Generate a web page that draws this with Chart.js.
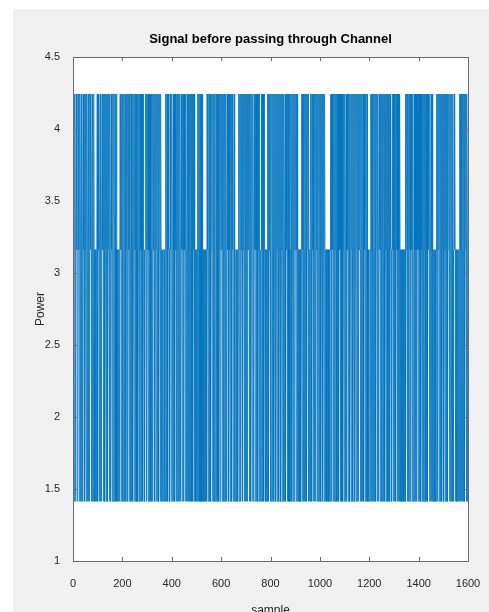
<!DOCTYPE html>
<html>
<head>
<meta charset="utf-8">
<title>Signal before passing through Channel</title>
<script src="https://cdn.jsdelivr.net/npm/chart.js@4.4.1/dist/chart.umd.min.js"></script>
<style>
  html, body { margin: 0; padding: 0; background: #fff; }
</style>
</head>
<body>
<canvas id="sig" width="489" height="612"></canvas>
<script>
// ── Data ────────────────────────────────────────────────────────────────────
// three power levels seen on the plot (bottom, middle, top)
const LEVELS = [1.414, 3.162, 4.243];

// symbol index per sample (0 = bottom, 1 = middle, 2 = top), 100 samples/row
const SYMBOL_ROWS = [
  '1121012211 0121120012 2111012210 1121021101 2211012012 1102121101 2012110221 1210112012 2101211101 1011011211',
  '0211210112 1021101221 1120112101 2110211012 0121112021 1012211021 1201121102 2110121011 0111011101 2112012110',
  '1201121012 2110012112 0211210121 1012201112 2101121021 1120121101 2201112012 1021120112 2101121011 0111210121',
  '1210211201 1221011021 1012112101 2011210221 1102112012 1210121101 0111010110 1101121012 2110211201 1021120112',
  '2110121012 1102112101 2012110211 0121101221 1012112012 2110121101 1201221011 0211012112 1021101211 2101011011',
  '0110211201 1210112021 1021010110 1101101101 1021120112 2101121012 1120112101 2012101122 1011210212 0112101221',
  '1120121101 2011210221 1012112012 0211101121 1210211201 1120110101 1011011011 2101121012 1121012011 2110121021',
  '1021120112 2110121012 0121101121 1012211021 1201121102 2110121011 1021120112 1201211011 0110111021 1201121102',
  '2101121012 1120112101 2012110221 1210121101 2011210121 1022110121 1012112012 2110121011 0121120112 1021101211',
  '2110211201 1101101101 1101121012 1210112021 1021120112 2101211011 1201121012 1120211201 1012112101 2101121012',
  '1120121101 2011210112 1101101011 0110101101 1021120112 2110121012 1012112101 2012110221 1201121102 2101121011',
  '2101121012 1120112101 2012110221 1210121101 2011210112 1021120112 2110121012 1012211021 1201121102 2110110101',
  '1011012102 1210112021 1021120112 2101211012 1120121101 2012110221 1201121012 1121012011 2110211201 1012112101',
  '2101121012 1120112101 2012110101 1011010110 1101121012 1210211201 1021120112 2110121011 1201121012 1012211021',
  '1201121102 2110121012 1012112101 2012110221 1210121101 2011210101 1101101011 0121120112 2101121012 1120112101',
  '2012110221 1201121012 1121012011 2110211201 1012112101 1011011011 1011012102 1210112021 1021120112 2101211012'
];

const X_TICKS = [0, 200, 400, 600, 800, 1000, 1200, 1400, 1600];
const Y_TICKS = [1, 1.5, 2, 2.5, 3, 3.5, 4, 4.5];

const symbols = SYMBOL_ROWS.join('').replace(/ /g, '').split('').map(Number);
const power   = symbols.map((s, i) => ({ x: i + 1, y: LEVELS[s] }));

// ── MATLAB-style frame: grey figure, white axes, box with inward ticks ─────
const matlabFrame = {
  id: 'matlabFrame',
  beforeDraw(chart) {
    const { ctx, chartArea: a } = chart;
    ctx.save();
    ctx.fillStyle = '#ffffff';
    ctx.fillRect(0, 0, chart.width, chart.height);
    ctx.fillStyle = '#f0f0f0';
    ctx.fillRect(13, 9, chart.width - 13, chart.height - 9);
    ctx.fillStyle = '#ffffff';
    ctx.fillRect(a.left, a.top, a.right - a.left, a.bottom - a.top);
    ctx.restore();
  },
  afterDatasetsDraw(chart) {
    const { ctx, chartArea: a, scales } = chart;
    const len = 4;
    ctx.save();
    ctx.strokeStyle = '#6b6b6b';
    ctx.lineWidth = 1;
    ctx.beginPath();
    scales.x.ticks.forEach(t => {
      const px = Math.round(scales.x.getPixelForValue(t.value)) + 0.5;
      ctx.moveTo(px, a.bottom); ctx.lineTo(px, a.bottom - len);
      ctx.moveTo(px, a.top);    ctx.lineTo(px, a.top + len);
    });
    scales.y.ticks.forEach(t => {
      const py = Math.round(scales.y.getPixelForValue(t.value)) + 0.5;
      ctx.moveTo(a.left, py);  ctx.lineTo(a.left + len, py);
      ctx.moveTo(a.right, py); ctx.lineTo(a.right - len, py);
    });
    ctx.stroke();
    ctx.strokeRect(Math.round(a.left) + 0.5, Math.round(a.top) + 0.5,
                   Math.round(a.right - a.left), Math.round(a.bottom - a.top));
    ctx.restore();
  }
};

// ── Chart ───────────────────────────────────────────────────────────────────
const FONT = 'Liberation Sans, Arial, Helvetica, sans-serif';
const INK  = '#262626';

new Chart(document.getElementById('sig'), {
  type: 'line',
  data: {
    datasets: [{
      label: 'Power',
      data: power,
      borderColor: '#0072BD',
      borderWidth: 0.7,
      pointRadius: 0,
      tension: 0,
      fill: false
    }]
  },
  options: {
    responsive: false,
    animation: false,
    parsing: false,
    normalized: true,
    layout: { padding: { left: 0, right: 21, top: 0, bottom: -6 } },
    plugins: {
      legend: { display: false },
      tooltip: { enabled: false },
      title: {
        display: true,
        text: 'Signal before passing through Channel',
        fullSize: false,
        color: '#000',
        font: { family: FONT, size: 13, weight: 'bold', lineHeight: 1.2 },
        padding: { top: 32, bottom: 9.4 }
      }
    },
    scales: {
      x: {
        type: 'linear',
        min: 0, max: 1600,
        afterBuildTicks: s => { s.ticks = X_TICKS.map(v => ({ value: v })); },
        afterFit: s => { s.height = 57; },
        grid: { display: false },
        border: { display: false },
        ticks: { color: INK, padding: 8, maxRotation: 0, autoSkip: false,
                 callback: v => String(v),
                 font: { family: FONT, size: 11 } },
        title: { display: true, text: 'sample', color: INK, padding: { top: 0, bottom: 0 },
                 font: { family: FONT, size: 12 } }
      },
      y: {
        type: 'linear',
        min: 1, max: 4.5,
        afterBuildTicks: s => { s.ticks = Y_TICKS.map(v => ({ value: v })); },
        afterFit: s => { s.width = 73; },
        grid: { display: false },
        border: { display: false },
        ticks: { color: INK, padding: 5, callback: v => String(v),
                 font: { family: FONT, size: 11 } },
        title: { display: true, text: 'Power', color: INK, padding: { top: 33, bottom: 0 },
                 font: { family: FONT, size: 12 } }
      }
    }
  },
  plugins: [matlabFrame]
});
</script>
</body>
</html>
